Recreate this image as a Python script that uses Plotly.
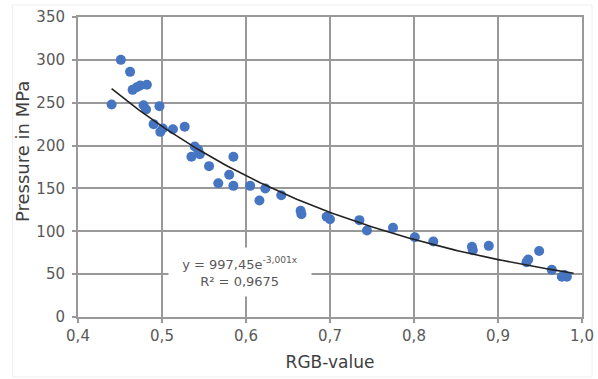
import numpy as np
import plotly.graph_objects as go

rgb_value = [0.440, 0.451, 0.462, 0.465, 0.470, 0.474, 0.482, 0.478, 0.481, 0.497,
             0.490, 0.498, 0.501, 0.513, 0.527, 0.539, 0.535, 0.545, 0.543, 0.556,
             0.585, 0.580, 0.567, 0.585, 0.605, 0.616, 0.623, 0.642, 0.665, 0.666,
             0.696, 0.700, 0.735, 0.744, 0.775, 0.801, 0.823, 0.869, 0.870, 0.889,
             0.934, 0.936, 0.949, 0.964, 0.976, 0.982, 0.979]
pressure = [248, 300, 286, 265, 268, 270, 271, 247, 242, 246,
            225, 216, 220, 219, 222, 199, 187, 190, 195, 176,
            187, 166, 156, 153, 153, 136, 150, 142, 124, 120,
            117, 114, 113, 101, 104, 93, 88, 82, 78, 83,
            64, 67, 77, 55, 47, 47, 49]

fit_a = 997.45
fit_b = -3.001
fit_range = [0.44, 0.99]
equation_text = "y = 997,45e<sup>-3,001x</sup><br>R² = 0,9675"
x_title = "RGB-value"
y_title = "Pressure in MPa"

x_ticks = [0.4, 0.5, 0.6, 0.7, 0.8, 0.9, 1.0]
x_tick_labels = ["0,4", "0,5", "0,6", "0,7", "0,8", "0,9", "1,0"]
y_ticks = [0, 50, 100, 150, 200, 250, 300, 350]

xf = np.linspace(fit_range[0], fit_range[1], 200)
yf = fit_a * np.exp(fit_b * xf)

FONT = "DejaVu Sans, Arial"

fig = go.Figure()
fig.add_trace(go.Scatter(x=rgb_value, y=pressure, mode="markers",
                         marker=dict(size=10, color="#4675C2", line=dict(width=0)),
                         showlegend=False))
fig.add_trace(go.Scatter(x=xf, y=yf, mode="lines",
                         line=dict(color="#222222", width=1.6), showlegend=False))

grid = "#999999"
fig.update_xaxes(range=[0.4, 1.0], tickvals=x_ticks, ticktext=x_tick_labels,
                 automargin=False,
                 showgrid=True, gridcolor=grid, gridwidth=2, zeroline=False,
                 showline=True, linecolor=grid, linewidth=2, mirror=True,
                 ticks="outside", ticklen=4, tickcolor=grid, tickwidth=2,
                 tickfont=dict(family=FONT, size=15, color="#595959"),
                 title=dict(text=x_title, font=dict(family=FONT, size=17, color="#404040"),
                            standoff=12))
fig.update_yaxes(range=[0, 350], tickvals=y_ticks,
                 automargin=False,
                 showgrid=True, gridcolor=grid, gridwidth=2, zeroline=False,
                 showline=True, linecolor=grid, linewidth=2, mirror=True,
                 ticks="outside", ticklen=4, tickcolor=grid, tickwidth=2,
                 ticklabelstandoff=4,
                 tickfont=dict(family=FONT, size=15, color="#595959"))

fig.add_annotation(x=-0.111, y=0.55, xref="paper", yref="paper", text=y_title,
                   textangle=-90, showarrow=False, xanchor="center", yanchor="middle",
                   font=dict(family=FONT, size=18, color="#404040"))

fig.add_annotation(x=0.593, y=52, xref="x", yref="y", text=equation_text,
                   showarrow=False, bgcolor="white", width=140, height=46,
                   font=dict(family=FONT, size=13, color="#595959"),
                   align="center")

fig.add_shape(type="rect", xref="paper", yref="paper", x0=-0.13, x1=1.02, y0=-0.2, y1=1.04,
              line=dict(color="#eeeeee", width=1), layer="below")

fig.update_layout(width=598, height=379, margin=dict(l=78, r=16, t=17, b=62, autoexpand=False),
                  plot_bgcolor="white", paper_bgcolor="white")
fig.write_html("out.html")
